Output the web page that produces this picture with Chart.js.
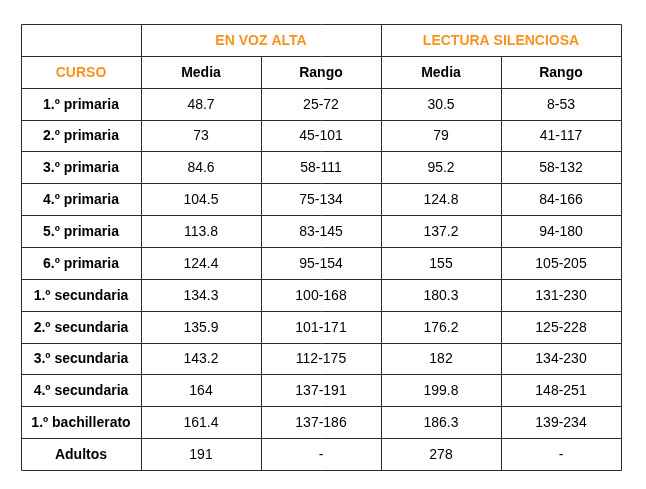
<!DOCTYPE html>
<html><head><meta charset="utf-8">
<script src="https://cdn.jsdelivr.net/npm/chart.js@4"></script>
<style>html,body{margin:0;padding:0;background:#fff}#w{width:646px;height:489px}</style>
</head><body><div id="w"><canvas id="c"></canvas></div>
<script>
const groupHeaders = ["EN VOZ ALTA", "LECTURA SILENCIOSA"];
const subHeaders = ["CURSO", "Media", "Rango", "Media", "Rango"];
const categories = ["1.º primaria","2.º primaria","3.º primaria","4.º primaria","5.º primaria","6.º primaria","1.º secundaria","2.º secundaria","3.º secundaria","4.º secundaria","1.º bachillerato","Adultos"];
const vozMedia = ["48.7","73","84.6","104.5","113.8","124.4","134.3","135.9","143.2","164","161.4","191"];
const vozRango = ["25-72","45-101","58-111","75-134","83-145","95-154","100-168","101-171","112-175","137-191","137-186","-"];
const silMedia = ["30.5","79","95.2","124.8","137.2","155","180.3","176.2","182","199.8","186.3","278"];
const silRango = ["8-53","41-117","58-132","84-166","94-180","105-205","131-230","125-228","134-230","148-251","139-234","-"];

const ORANGE = "#f7931e";
const cells = [];
// header row 0
cells.push({x:0.5,y:0.5,t:"",b:true,c:"#000"});
cells.push({x:2,y:0.5,t:groupHeaders[0],b:true,c:ORANGE});
cells.push({x:4,y:0.5,t:groupHeaders[1],b:true,c:ORANGE});
subHeaders.forEach((h,i)=>cells.push({x:i+0.5,y:1.5,t:h,b:true,c:i===0?ORANGE:"#000"}));
categories.forEach((cat,r)=>{
  const y=r+2.5;
  cells.push({x:0.5,y,t:cat,b:true,c:"#000"});
  cells.push({x:1.5,y,t:vozMedia[r],b:false,c:"#000"});
  cells.push({x:2.5,y,t:vozRango[r],b:false,c:"#000"});
  cells.push({x:3.5,y,t:silMedia[r],b:false,c:"#000"});
  cells.push({x:4.5,y,t:silRango[r],b:false,c:"#000"});
});
const nRows = categories.length + 2;

const tablePlugin = {
  id:'table',
  afterDatasetsDraw(chart){
    const ctx=chart.ctx, xs=chart.scales.x, ys=chart.scales.y;
    const px=v=>Math.round(xs.getPixelForValue(v))+0.5, py=v=>Math.round(ys.getPixelForValue(v))+0.5;
    ctx.save();
    ctx.strokeStyle="#2b2b2b"; ctx.lineWidth=1;
    ctx.beginPath();
    for(let r=0;r<=nRows;r++){ctx.moveTo(px(0),py(r));ctx.lineTo(px(5),py(r));}
    for(let c=0;c<=5;c++){
      if(c===2||c===4){ctx.moveTo(px(c),py(1));ctx.lineTo(px(c),py(nRows));}
      else {ctx.moveTo(px(c),py(0));ctx.lineTo(px(c),py(nRows));}
    }
    ctx.stroke();
    ctx.textAlign="center"; ctx.textBaseline="middle";
    const meta=chart.getDatasetMeta(0);
    meta.data.forEach((pt,i)=>{
      const cl=cells[i];
      ctx.font=(cl.b?"bold ":"")+"14px 'Liberation Sans', Arial, sans-serif";
      ctx.fillStyle=cl.c;
      ctx.fillText(cl.t,pt.x,pt.y+1);
    });
    ctx.restore();
  }
};

new Chart(document.getElementById('c'),{
  type:'scatter',
  data:{datasets:[{data:cells.map(c=>({x:c.x,y:c.y})),pointRadius:0,pointHoverRadius:0}]},
  options:{
    responsive:true,maintainAspectRatio:false,animation:false,
    layout:{padding:{left:21,right:25,top:24,bottom:19}},
    plugins:{legend:{display:false},tooltip:{enabled:false}},
    scales:{
      x:{type:'linear',min:0,max:5,display:false},
      y:{type:'linear',min:0,max:nRows,reverse:true,display:false}
    }
  },
  plugins:[tablePlugin]
});
</script></body></html>
